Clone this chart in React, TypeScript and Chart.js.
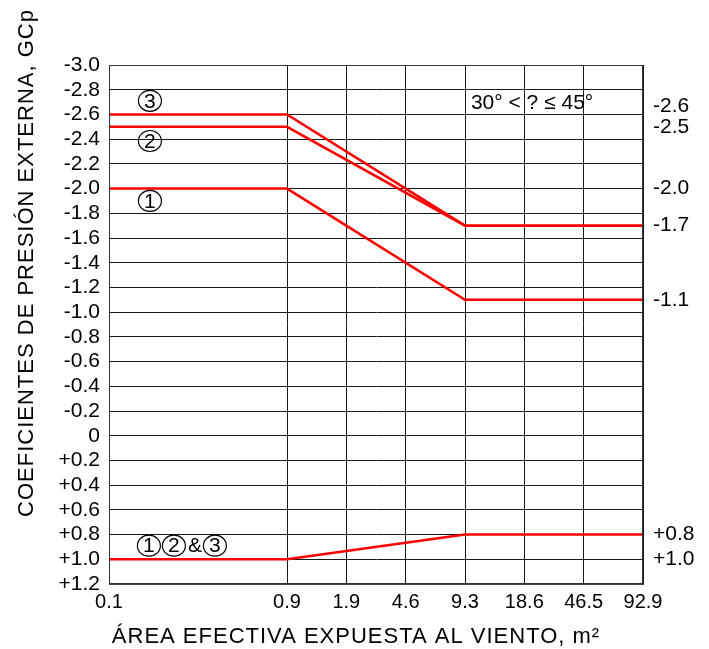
import React, { useEffect, useRef } from "react";
import { Chart, registerables } from "chart.js";

Chart.register(...registerables);

// ---- data ----
const xTickLabels = ["0.1", "0.9", "1.9", "4.6", "9.3", "18.6", "46.5", "92.9"];
// axis slot of each tick label (the original uses a non-uniform area scale)
const xTickSlots = [0, 3, 4, 5, 6, 7, 8, 9];

const areaPoints = [0.1, 0.9, 9.3, 92.9];
const zone3 = [-2.6, -2.6, -1.7, -1.7];
const zone2 = [-2.5, -2.5, -1.7, -1.7];
const zone1 = [-2.0, -2.0, -1.1, -1.1];
const zonesPositive = [1.0, 1.0, 0.8, 0.8];

const rightLabelValues = [-2.6, -2.5, -2.0, -1.7, -1.1, 0.8, 1.0];

const yMin = -3.0;
const yMax = 1.2;
const yStep = 0.2;

const xTitle = "ÁREA EFECTIVA EXPUESTA AL VIENTO, m²";
const yTitle = "COEFICIENTES DE PRESIÓN EXTERNA, GCp";
const angleNote = "30° < ? ≤ 45°";

// annotation anchors in (slot, value) units
const circleNotes = [
  { text: "3", slot: 0.69, value: -2.71 },
  { text: "2", slot: 0.69, value: -2.385 },
  { text: "1", slot: 0.69, value: -1.9 },
];
const groupNote = { parts: ["1", "2", "&", "3"], slot: 0.47, value: 0.89 };
const angleNotePos = { slot: 6.1, value: -2.69 };

const FONT = '"Liberation Sans", Arial, sans-serif';

function areaToSlot(a: number): number {
  const i = xTickLabels.findIndex((l) => Math.abs(parseFloat(l) - a) < 1e-9);
  return xTickSlots[i];
}

function fmtY(v: number): string {
  const r = Math.round(v * 10) / 10;
  if (r === 0) return "0";
  if (r > 0) return "+" + r.toFixed(1);
  return r.toFixed(1);
}

const overlayPlugin = {
  id: "overlay",
  afterDraw(chart: any) {
    const ctx = chart.ctx as CanvasRenderingContext2D;
    const xs = chart.scales.x;
    const ys = chart.scales.y;
    const area = chart.chartArea;
    ctx.save();
    ctx.fillStyle = "#000";
    ctx.strokeStyle = "#000";

    // right side labels with simple collision avoidance
    ctx.font = `21px ${FONT}`;
    ctx.textAlign = "left";
    ctx.textBaseline = "middle";
    const pos = rightLabelValues.map((v) => ys.getPixelForValue(v));
    for (let i = pos.length - 2; i >= 0; i--) {
      if (pos[i + 1] - pos[i] < 21) pos[i] = pos[i + 1] - 21;
    }
    rightLabelValues.forEach((v, i) => {
      ctx.fillText(fmtY(v), area.right + 10, pos[i]);
    });

    // circled numbers
    const drawCircled = (t: string, cx: number, cy: number) => {
      ctx.beginPath();
      ctx.lineWidth = 1.2;
      ctx.ellipse(cx, cy, 11.5, 10.5, 0, 0, Math.PI * 2);
      ctx.stroke();
      ctx.font = `21px ${FONT}`;
      ctx.textAlign = "center";
      ctx.textBaseline = "middle";
      ctx.fillText(t, cx, cy + 1);
    };
    circleNotes.forEach((n) => {
      drawCircled(n.text, xs.getPixelForValue(n.slot), ys.getPixelForValue(n.value));
    });
    {
      let x = xs.getPixelForValue(groupNote.slot);
      const y = ys.getPixelForValue(groupNote.value);
      groupNote.parts.forEach((p) => {
        if (p === "&") {
          ctx.font = `21px ${FONT}`;
          ctx.textAlign = "center";
          ctx.textBaseline = "middle";
          ctx.fillText("&", x + 8, y + 1);
          x += 16;
        } else {
          drawCircled(p, x + 12, y);
          x += 25;
        }
      });
    }

    // angle note
    ctx.font = `21px ${FONT}`;
    ctx.textAlign = "left";
    ctx.textBaseline = "middle";
    ctx.fillText(angleNote, xs.getPixelForValue(angleNotePos.slot), ys.getPixelForValue(angleNotePos.value));

    // axis titles
    ctx.font = `22px ${FONT}`;
    (ctx as any).letterSpacing = "1px";
    ctx.textAlign = "center";
    ctx.textBaseline = "alphabetic";
    ctx.fillText(xTitle, 356, 643);
    ctx.translate(33, 263);
    ctx.rotate(-Math.PI / 2);
    ctx.fillText(yTitle, 0, 0);
    ctx.restore();
  },
};

export default function App() {
  const ref = useRef<HTMLCanvasElement | null>(null);

  useEffect(() => {
    if (!ref.current) return;
    const mk = (vals: number[]) => areaPoints.map((a, i) => ({ x: areaToSlot(a), y: vals[i] }));
    const line = (label: string, vals: number[]) => ({
      label,
      data: mk(vals),
      borderColor: "#ff0000",
      borderWidth: 2.5,
      pointRadius: 0,
      fill: false,
      tension: 0,
    });
    const chart = new Chart(ref.current, {
      type: "line",
      data: {
        datasets: [
          line("Zona 3", zone3),
          line("Zona 2", zone2),
          line("Zona 1", zone1),
          line("Zonas 1, 2 & 3", zonesPositive),
        ],
      },
      options: {
        animation: false,
        responsive: false,
        maintainAspectRatio: false,
        devicePixelRatio: 1,
        layout: { padding: { left: 0, right: 66, top: 65, bottom: 35 } },
        plugins: { legend: { display: false }, tooltip: { enabled: false } },
        scales: {
          x: {
            type: "linear",
            min: 0,
            max: 9,
            afterBuildTicks: (scale: any) => {
              scale.ticks = xTickSlots.map((v) => ({ value: v }));
            },
            afterFit: (scale: any) => {
              scale.height = 30;
            },
            ticks: {
              autoSkip: false,
              maxRotation: 0,
              padding: 6,
              color: "#000",
              font: { family: FONT, size: 20 },
              callback: (v: any) => {
                const i = xTickSlots.indexOf(Number(v));
                return i >= 0 ? xTickLabels[i] : "";
              },
            },
            grid: { color: "#1a1a1a", lineWidth: 1, drawTicks: false },
            border: { color: "#444", width: 1 },
          },
          y: {
            type: "linear",
            reverse: true,
            min: yMin,
            max: yMax,
            afterFit: (scale: any) => {
              scale.width = 109;
            },
            ticks: {
              stepSize: yStep,
              autoSkip: false,
              padding: 9,
              color: "#000",
              font: { family: FONT, size: 21 },
              callback: (v: any) => fmtY(Number(v)),
            },
            grid: { color: "#1a1a1a", lineWidth: 1, drawTicks: false },
            border: { color: "#444", width: 1 },
          },
        },
      },
      plugins: [
        overlayPlugin,
        {
          id: "frame",
          afterDatasetsDraw(chart: any) {
            const { ctx, chartArea: a } = chart;
            ctx.save();
            ctx.strokeStyle = "#333";
            ctx.lineWidth = 1;
            ctx.strokeRect(a.left + 0.5, a.top + 0.5, a.right - a.left - 1, a.bottom - a.top - 1);
            ctx.restore();
          },
        },
      ],
    } as any);
    return () => chart.destroy();
  }, []);

  return (
    <div style={{ position: "fixed", left: 0, top: 0, width: 709, height: 649, background: "#fff" }}>
      <canvas ref={ref} width={709} height={649} style={{ width: 709, height: 649, display: "block" }} />
    </div>
  );
}
